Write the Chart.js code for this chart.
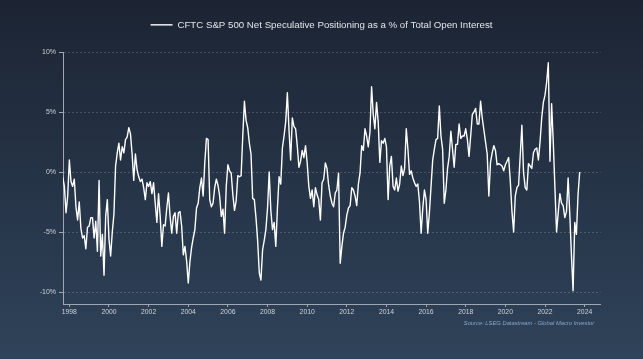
<!DOCTYPE html>
<html>
<head>
<meta charset="utf-8">
<script src="https://cdn.jsdelivr.net/npm/chart.js@4.4.1/dist/chart.umd.min.js"></script>
<style>
  html, body { margin: 0; padding: 0; background: #1c2434; }
  #wrap { width: 643px; height: 359px; }
</style>
</head>
<body>
<div id="wrap"><canvas id="c" width="643" height="359"></canvas></div>
<script>
// ---- Data (monthly readings, % of total open interest) ----
const y1997 = [-0.4, -1.2, -3.4, -2.0];               // Sep–Dec 1997
const y1998 = [1.0, -0.8, -1.2, -0.6, -2.9, -4.0, -2.5, -4.7, -5.5, -5.3, -6.4, -4.6];
const y1999 = [-4.5, -3.8, -3.8, -5.5, -4.1, -6.6, -0.7, -7.0, -5.2, -8.6, -3.7, -2.3];
const y2000 = [-5.6, -7.0, -5.0, -3.5, 0.5, 1.6, 2.4, 1.0, 2.1, 1.6, 2.7, 2.9];
const y2001 = [3.7, 3.2, 1.5, -0.7, 1.5, 0.2, -0.4, -0.8, -0.6, -1.3, -2.3, -0.9];
const y2002 = [-1.2, -0.8, -1.8, -0.9, -2.6, -4.2, -1.8, -3.7, -6.2, -4.4, -4.5, -3.0];
const y2003 = [-1.75, -3.7, -5.1, -3.7, -3.4, -5.1, -3.4, -3.3, -4.5, -6.9, -6.2, -7.4];
const y2004 = [-9.25, -7.5, -6.3, -5.5, -4.8, -3.0, -2.6, -1.3, -0.5, -2.0, 0.75, 2.8];
const y2005 = [2.7, -2.3, -2.9, -2.6, -1.3, -0.6, -1.1, -2.0, -3.7, -3.1, -5.1, -1.2];
const y2006 = [0.6, 0.1, -0.1, -1.9, -3.2, -2.4, -0.3, -0.4, -0.3, 3.0, 5.9, 4.3];
const y2007 = [3.7, 2.4, 1.5, -2.2, -2.3, -3.8, -5.7, -8.4, -9.0, -6.5, -5.7, -4.8];
const y2008 = [-3.0, 0.0, -3.2, -4.8, -4.2, -6.2, -3.0, -0.4, -1.0, 2.0, 3.0, 4.2];
const y2009 = [6.6, 3.5, 1.0, 4.5, 3.8, 3.6, 2.2, 0.4, 0.9, 1.8, 1.2, 2.2];
const y2010 = [0.75, -1.2, -2.2, -1.5, -2.9, -1.3, -1.9, -2.3, -4.0, -0.9, -0.6, 0.75];
const y2011 = [0.3, -1.1, -2.0, -2.6, -2.9, -1.75, -1.5, -0.1, -7.6, -6.2, -5.1, -4.6];
const y2012 = [-3.6, -3.0, -2.8, -1.3, -1.5, -2.0, -2.8, -1.0, -0.1, 2.2, 1.8, 3.6];
const y2013 = [3.0, 2.1, 3.3, 7.1, 4.8, 3.6, 5.8, 4.2, 0.8, 2.6, 2.4, 2.8];
const y2014 = [2.1, -2.3, 0.5, 1.3, -1.2, -1.5, -0.5, -1.6, -1.0, 0.5, -0.3, 0.3];
const y2015 = [3.6, 1.9, -0.2, 0.1, -0.5, -0.9, -1.2, -1.0, -2.5, -5.1, -3.0, -1.5];
const y2016 = [-2.3, -5.1, -3.4, -1.2, 1.0, 1.9, 2.7, 2.8, 5.5, 3.0, 1.9, -2.6];
const y2017 = [-1.5, 0.3, 1.3, 3.4, 1.9, 0.4, 2.3, 2.3, 4.0, 2.8, 3.0, 3.0];
const y2018 = [3.6, 2.7, 1.3, 3.0, 4.8, 5.0, 5.3, 4.0, 4.0, 5.9, 4.5, 3.5];
const y2019 = [2.5, 1.5, -2.0, 0.8, 1.6, 2.2, 1.8, 0.6, 0.7, 0.6, 0.5, 0.1];
const y2020 = [0.6, 0.9, 1.2, -0.8, -3.3, -5.0, -2.0, -1.3, -1.1, 1.4, 3.9, 0.0];
const y2021 = [-1.3, -1.5, 0.7, 0.5, 0.3, 1.6, 1.9, 2.0, 1.0, 2.5, 4.5, 5.8];
const y2022 = [6.4, 7.5, 9.1, 0.9, 5.7, 2.5, -1.3, -5.0, -3.4, -1.8, -2.6, -2.8];
const y2023 = [-3.8, -3.3, -0.5, -3.5, -6.9, -9.9, -4.2, -5.2, -1.9, 0.0];  // Jan–Oct 2023

const seriesYears  = [1997, 1998, 1999, 2000, 2001, 2002, 2003, 2004, 2005, 2006, 2007, 2008, 2009,
                      2010, 2011, 2012, 2013, 2014, 2015, 2016, 2017, 2018, 2019, 2020, 2021, 2022, 2023];
const seriesValues = [y1997, y1998, y1999, y2000, y2001, y2002, y2003, y2004, y2005, y2006, y2007, y2008, y2009,
                      y2010, y2011, y2012, y2013, y2014, y2015, y2016, y2017, y2018, y2019, y2020, y2021, y2022, y2023];
const firstMonthIndex = 8; // 1997 series starts in September

const xTickYears  = [1998, 2000, 2002, 2004, 2006, 2008, 2010, 2012, 2014, 2016, 2018, 2020, 2022, 2024];
const yTickValues = [-10, -5, 0, 5, 10];

const seriesLabel = 'CFTC S&P 500 Net Speculative Positioning as a % of Total Open Interest';
const sourceNote  = 'Source: LSEG Datastream - Global Macro Investor';

// ---- Build points (x = decimal year) ----
const points = [];
seriesYears.forEach((yr, k) => {
  const start = k === 0 ? firstMonthIndex : 0;
  seriesValues[k].forEach((v, i) => points.push({ x: yr + (start + i) / 12, y: v }));
});

const FONT = "'Liberation Sans', Arial, sans-serif";

const bgPlugin = {
  id: 'bgGradient',
  beforeDraw(chart) {
    const { ctx, width, height } = chart;
    const g = ctx.createLinearGradient(0, 0, 0, height);
    g.addColorStop(0, '#1c2433');
    g.addColorStop(1, '#2f435a');
    ctx.save();
    ctx.fillStyle = g;
    ctx.fillRect(0, 0, width, height);
    ctx.restore();
  }
};

const legendSpace = {
  id: 'legendSpace',
  beforeLayout(chart) {
    const lg = chart.legend;
    if (lg && !lg._spaced) {
      const orig = lg.fit;
      lg.fit = function () { orig.call(this); this.height = 42; };
      lg._spaced = true;
    }
  }
};

new Chart(document.getElementById('c'), {
  type: 'line',
  data: {
    datasets: [{
      label: seriesLabel,
      data: points,
      borderColor: '#ffffff',
      backgroundColor: '#ffffff',
      borderWidth: 1.4,
      borderJoinStyle: 'round',
      pointRadius: 0,
      pointHoverRadius: 0,
      tension: 0,
      fill: false
    }]
  },
  options: {
    responsive: false,
    animation: false,
    events: [],
    layout: { padding: { left: 0, right: 0, top: 10, bottom: 25 } },
    plugins: {
      legend: {
        display: true,
        position: 'top',
        align: 'center',
        labels: {
          color: '#e2e5ea',
          font: { size: 9.7, family: FONT },
          usePointStyle: true,
          pointStyle: 'line',
          pointStyleWidth: 22,
          padding: 10
        }
      },
      tooltip: { enabled: false }
    },
    scales: {
      x: {
        type: 'linear',
        min: 1997.68,
        max: 2024.81,
        afterBuildTicks: s => { s.ticks = xTickYears.map(v => ({ value: v })); },
        afterFit: s => { s.height = 30; },
        grid: { display: true, drawOnChartArea: false, drawTicks: true, tickLength: 3, tickColor: '#9ea7b3', color: '#9ea7b3' },
        border: { display: true, color: '#9ea7b3', width: 1 },
        ticks: {
          color: '#cdd2d9',
          font: { size: 6.8, family: FONT },
          padding: 1,
          autoSkip: false,
          maxRotation: 0,
          callback: v => String(v)
        },
        title: {
          display: true,
          text: sourceNote + '    ',
          align: 'end',
          color: '#86a6c8',
          font: { size: 5.8, style: 'italic', family: FONT },
          padding: { top: 0, bottom: 7.2 }
        }
      },
      y: {
        type: 'linear',
        position: 'left',
        min: -11,
        max: 10,
        afterBuildTicks: s => { s.ticks = yTickValues.map(v => ({ value: v })); },
        afterFit: s => { s.width = 63; },
        grid: { display: true, drawOnChartArea: true, color: 'rgba(255,255,255,0.17)', tickColor: '#9ea7b3', tickLength: 4, tickBorderDash: [] },
        border: { display: true, color: '#9ea7b3', width: 1, dash: [2, 2] },
        ticks: {
          color: '#cdd2d9',
          font: { size: 7, family: FONT },
          padding: 3,
          callback: v => v + '%'
        }
      },
      yRight: {
        type: 'linear',
        position: 'right',
        display: true,
        afterFit: s => { s.width = 42.3; },
        grid: { display: false },
        border: { display: false },
        ticks: { display: false }
      }
    }
  },
  plugins: [bgPlugin, legendSpace]
});
</script>
</body>
</html>
